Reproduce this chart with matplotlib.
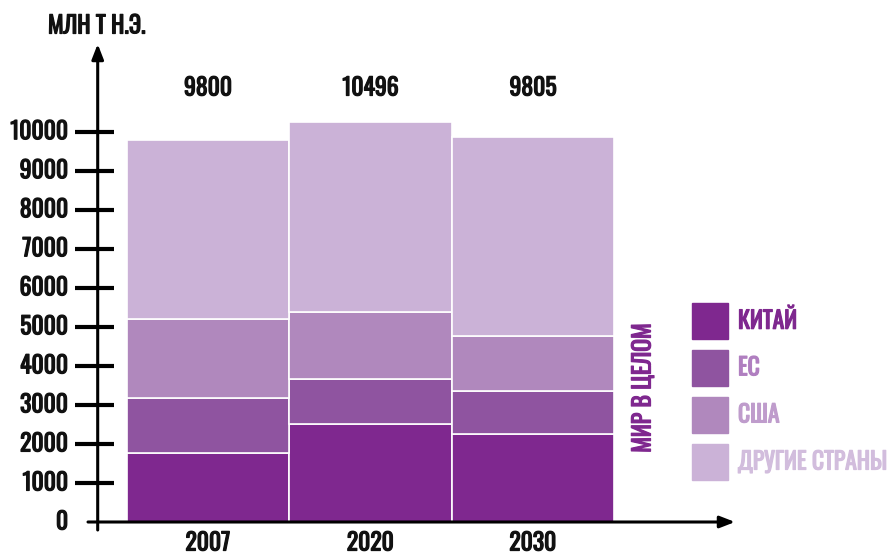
import matplotlib
matplotlib.use("Agg")
import matplotlib.pyplot as plt
import matplotlib.patheffects as pe
from matplotlib.font_manager import fontManager

years = ["2007", "2020", "2030"]
china = [1770, 2500, 2260]
eu = [1400, 1170, 1100]
usa = [2040, 1720, 1410]
others = [4590, 4870, 5090]
totals = ["9800", "10496", "9805"]
yticks = [0, 1000, 2000, 3000, 4000, 5000, 6000, 7000, 8000, 9000, 10000]
series_names = ["КИТАЙ", "ЕС", "США", "ДРУГИЕ СТРАНЫ"]
colors = ["#7f288f", "#8f54a0", "#b088bd", "#cbb2d7"]
text_colors = ["#7f288f", "#b07fc0", "#bf9ccc", "#d2bddd"]

names = {f.name for f in fontManager.ttflist}
cands = ["Oswald", "Fira Sans Extra Condensed", "Roboto Condensed", "DejaVu Sans"]
fams = [c for c in cands if c in names]
plt.rcParams["font.family"] = fams + ["DejaVu Sans"]
plt.rcParams["font.weight"] = "bold"

W, H = 888, 554
fig = plt.figure(figsize=(W / 100, H / 100), dpi=100)
ax_left, ax_right = 97.7, 735
ax_bottom, ax_top = 522, 44
ax = fig.add_axes([ax_left / W, (H - ax_bottom) / H,
                   (ax_right - ax_left) / W, (ax_bottom - ax_top) / H])
px_per_unit = 162.5
xmin = -0.5 - (126.7 - ax_left) / px_per_unit
xmax = -0.5 + (ax_right - 126.7) / px_per_unit
px_per_val = (522 - 131.7) / 10000
ymax = (ax_bottom - ax_top) / px_per_val
ax.set_xlim(xmin, xmax)
ax.set_ylim(0, ymax)
ax.axis("off")


def bold(color, lw=0.9):
    return [pe.withStroke(linewidth=lw, foreground=color)]


x = list(range(len(years)))
bottom = [0] * len(years)
for vals, c in zip([china, eu, usa, others], colors):
    ax.bar(x, vals, width=1.0, bottom=bottom, color=c, edgecolor="white",
           linewidth=1.2, zorder=2)
    bottom = [b + v for b, v in zip(bottom, vals)]

# axes arrows
ax.annotate("", xy=(xmax, 0), xytext=(xmin - 9.7 / px_per_unit, 0),
            arrowprops=dict(arrowstyle="-|>,head_length=0.9,head_width=0.35",
                            color="black", lw=2.2, shrinkA=0, shrinkB=0),
            annotation_clip=False, zorder=5)
ax.annotate("", xy=(xmin, ymax), xytext=(xmin, -8 / px_per_val),
            arrowprops=dict(arrowstyle="-|>,head_length=0.9,head_width=0.35",
                            color="black", lw=2.2, shrinkA=0, shrinkB=0),
            annotation_clip=False, zorder=5)

# ticks
for t in yticks[1:]:
    ax.plot([xmin - 22.7 / px_per_unit, xmin + 16.3 / px_per_unit], [t, t],
            color="black", lw=3, solid_capstyle="butt", clip_on=False, zorder=5)
fs = 17
dark = "#111111"
for t in yticks:
    ax.text(xmin - 29.5 / px_per_unit, t, str(t), ha="right", va="center",
            fontsize=fs, color=dark, path_effects=bold(dark))

for xi, yr, tot in zip(x, years, totals):
    ax.text(xi, -21 / px_per_val, yr, ha="center", va="center",
            fontsize=fs, color=dark, path_effects=bold(dark))
    ax.text(xi, (522 - 88) / px_per_val, tot, ha="center", va="center",
            fontsize=fs, color=dark, path_effects=bold(dark))

fig.text(48 / W, 1 - 26 / H, "МЛН Т Н.Э.", ha="left", va="center",
         fontsize=fs, color=dark, path_effects=bold(dark))

fig.text(643 / W, 1 - 388 / H, "МИР В ЦЕЛОМ", rotation=90, ha="center",
         va="center", fontsize=fs, color="#7f288f", path_effects=bold("#7f288f"))

# legend
sq = 36
for i, (nm, c, tc) in enumerate(zip(series_names, colors, text_colors)):
    top = 302.7 + i * 47.1
    fig.patches.append(plt.Rectangle((691.7 / W, 1 - (top + sq) / H), sq / W, sq / H,
                                     transform=fig.transFigure, color=c, figure=fig))
    fig.text(738 / W, 1 - (top + sq / 2) / H, nm, ha="left", va="center",
             fontsize=fs, color=tc, path_effects=bold(tc))

fig.savefig("out.png", dpi=100)
